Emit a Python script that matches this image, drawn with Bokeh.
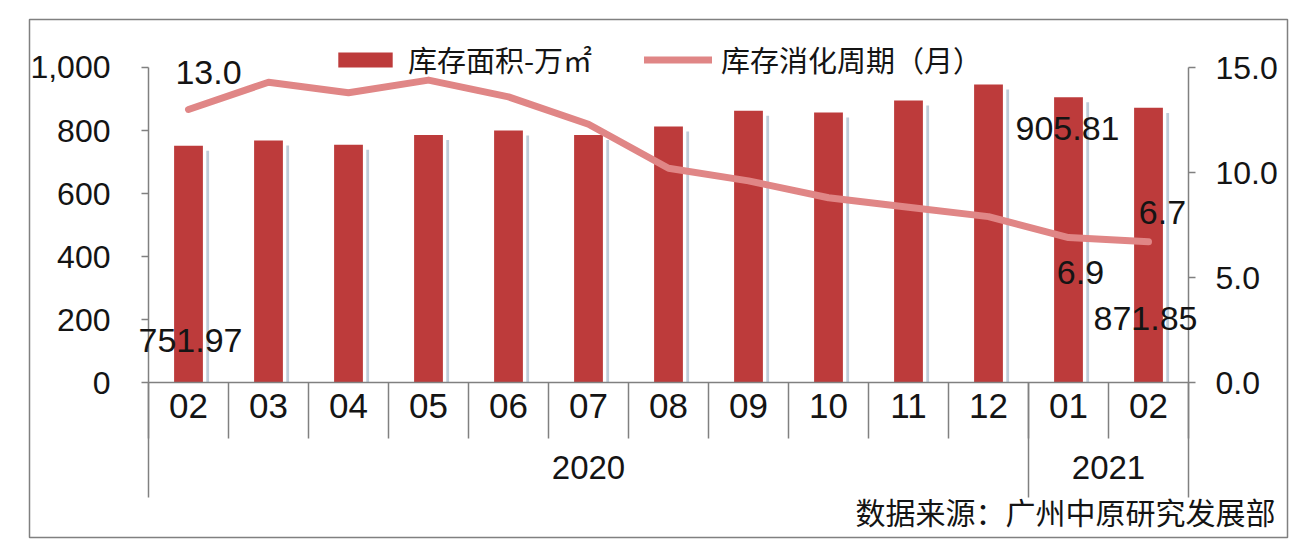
import numpy as np
from bokeh.plotting import figure
from bokeh.models import (Range1d, LinearAxis, FixedTicker, NumeralTickFormatter,
                          Legend, LegendItem, Label)
from bokeh.embed import file_html
from bokeh.resources import INLINE

# ---------------- data ----------------
MONTHS = ["02", "03", "04", "05", "06", "07", "08", "09", "10", "11", "12", "01", "02"]
YEARS = ["2020"] * 11 + ["2021"] * 2
INVENTORY = [751.97, 768, 755, 786, 800, 786, 813, 863, 857, 895, 946, 905.81, 871.85]  # 万㎡
CYCLE = [13.0, 14.3, 13.8, 14.4, 13.6, 12.3, 10.2, 9.6, 8.8, 8.35, 7.9, 6.9, 6.7]       # 月
LEFT_TICKS = [0, 200, 400, 600, 800, 1000]
RIGHT_TICKS = [0, 5, 10, 15]
BAR_NAME = "库存面积-万㎡"
LINE_NAME = "库存消化周期（月）"
SOURCE = "数据来源：广州中原研究发展部"

# ---------------- styles ----------------
BAR_COLOR = "#BD3B3B"
LINE_COLOR = "#E08686"
SHADOW_COLOR = "#BFCCD8"
AXIS_COLOR = "#808080"
TEXT_COLOR = "#141414"
NUM_FONT = "Liberation Sans"
CJK_FONT = "Noto Sans CJK SC"

idx = np.arange(len(MONTHS))

p = figure(width=1306, height=556, output_backend="svg", toolbar_location=None,
           x_axis_type=None, y_axis_type=None,
           x_range=Range1d(-1.9875, 13.7375), y_range=Range1d(-492.06, 1152.38),
           min_border_left=29, min_border_right=19, min_border_top=19, min_border_bottom=19)
p.extra_y_ranges = {"right": Range1d(-7.381, 17.286)}
p.xgrid.visible = False
p.ygrid.visible = False
p.outline_line_color = AXIS_COLOR
p.outline_line_width = 1.5
p.background_fill_color = "white"
p.border_fill_color = "white"

# shadows + bars
p.vbar(x=idx + 0.24, top=np.array(INVENTORY) - 16, width=0.035, bottom=0,
       fill_color=SHADOW_COLOR, line_color=None)
bars = p.vbar(x=idx, top=INVENTORY, width=0.36, bottom=0,
              fill_color=BAR_COLOR, line_color=None)
line = p.line(x=idx, y=CYCLE, y_range_name="right", line_color=LINE_COLOR,
              line_width=7, line_join="round", line_cap="round")

# ---------------- axes ----------------
left = LinearAxis(fixed_location=-0.5, bounds=(LEFT_TICKS[0], LEFT_TICKS[-1]),
                  ticker=FixedTicker(ticks=LEFT_TICKS),
                  formatter=NumeralTickFormatter(format="0,0"),
                  axis_line_color=AXIS_COLOR, axis_line_width=1.5,
                  major_tick_line_color=AXIS_COLOR, major_tick_line_width=1.5,
                  major_tick_in=0, major_tick_out=7, minor_tick_line_color=None,
                  major_label_standoff=31, major_label_text_font=NUM_FONT,
                  major_label_text_font_size="32px", major_label_text_color=TEXT_COLOR)
p.add_layout(left, "left")

right = LinearAxis(y_range_name="right", fixed_location=len(MONTHS) - 0.5,
                   bounds=(RIGHT_TICKS[0], RIGHT_TICKS[-1]),
                   ticker=FixedTicker(ticks=RIGHT_TICKS),
                   formatter=NumeralTickFormatter(format="0.0"),
                   axis_line_color=AXIS_COLOR, axis_line_width=1.5,
                   major_tick_line_color=AXIS_COLOR, major_tick_line_width=1.5,
                   major_tick_in=0, major_tick_out=7, minor_tick_line_color=None,
                   major_label_standoff=20, major_label_text_font=NUM_FONT,
                   major_label_text_font_size="32px", major_label_text_color=TEXT_COLOR)
p.add_layout(right, "right")

bounds_all = [i - 0.5 for i in range(len(MONTHS) + 1)]
group_bounds = [-0.5]
group_centers = {}
for y in dict.fromkeys(YEARS):
    members = [i for i, yy in enumerate(YEARS) if yy == y]
    group_bounds.append(members[-1] + 0.5)
    group_centers[(members[0] + members[-1]) / 2] = y

x_line = LinearAxis(fixed_location=0, bounds=(bounds_all[0], bounds_all[-1]),
                    ticker=FixedTicker(ticks=bounds_all),
                    axis_line_color=AXIS_COLOR, axis_line_width=1.5,
                    major_tick_line_color=AXIS_COLOR, major_tick_line_width=1.5,
                    major_tick_in=0, major_tick_out=56, minor_tick_line_color=None,
                    major_label_text_alpha=0)
p.add_layout(x_line, "below")

x_groups = LinearAxis(fixed_location=0, ticker=FixedTicker(ticks=group_bounds),
                      axis_line_color=None,
                      major_tick_line_color=AXIS_COLOR, major_tick_line_width=1.5,
                      major_tick_in=0, major_tick_out=115, minor_tick_line_color=None,
                      major_label_text_alpha=0)
p.add_layout(x_groups, "below")

x_months = LinearAxis(fixed_location=0, ticker=FixedTicker(ticks=list(idx)),
                      major_label_overrides={int(i): m for i, m in zip(idx, MONTHS)},
                      axis_line_color=None, major_tick_line_color=None,
                      minor_tick_line_color=None, major_tick_out=0, major_tick_in=0,
                      major_label_standoff=11, major_label_text_font=NUM_FONT,
                      major_label_text_font_size="35px", major_label_text_color=TEXT_COLOR)
p.add_layout(x_months, "below")

x_years = LinearAxis(fixed_location=0, ticker=FixedTicker(ticks=list(group_centers.keys())),
                     major_label_overrides=group_centers,
                     axis_line_color=None, major_tick_line_color=None,
                     minor_tick_line_color=None, major_tick_out=0, major_tick_in=0,
                     major_label_standoff=73, major_label_text_font=NUM_FONT,
                     major_label_text_font_size="33px", major_label_text_color=TEXT_COLOR)
p.add_layout(x_years, "below")

# ---------------- data labels ----------------
def add_label(i, val, text, dx, dy, rng="default"):
    p.add_layout(Label(x=i, y=val, text=text, x_offset=dx, y_offset=dy,
                       y_range_name=rng, text_align="center", text_baseline="middle",
                       text_font=NUM_FONT, text_font_size="34px", text_color=TEXT_COLOR))

last = len(MONTHS) - 1
add_label(0, CYCLE[0], f"{CYCLE[0]:.1f}", 20, 37, "right")
add_label(0, INVENTORY[0], f"{INVENTORY[0]:.2f}", 2, -195)
add_label(last - 1, INVENTORY[last - 1], f"{INVENTORY[last - 1]:.2f}", -1, -31)
add_label(last - 1, CYCLE[last - 1], f"{CYCLE[last - 1]:.1f}", 12, -35, "right")
add_label(last, CYCLE[last], f"{CYCLE[last]:.1f}", 14, 29, "right")
add_label(last, INVENTORY[last], f"{INVENTORY[last]:.2f}", -3, -211)

# ---------------- legend ----------------
legend = Legend(items=[LegendItem(label=BAR_NAME, renderers=[bars]),
                       LegendItem(label=LINE_NAME, renderers=[line])],
                orientation="horizontal", location=(302, 457),
                glyph_width=68, glyph_height=19, label_standoff=9, spacing=52,
                padding=0, margin=0, border_line_color=None, background_fill_alpha=0,
                label_text_font=CJK_FONT, label_text_font_size="29px",
                label_text_color=TEXT_COLOR)
p.add_layout(legend)

# ---------------- source note ----------------
p.add_layout(Label(x=1246, y=27, x_units="screen", y_units="screen", text=SOURCE,
                   text_align="right", text_baseline="middle", text_font=CJK_FONT,
                   text_font_size="30px", text_color=TEXT_COLOR))

open("out.html", "w").write(file_html(p, INLINE))
